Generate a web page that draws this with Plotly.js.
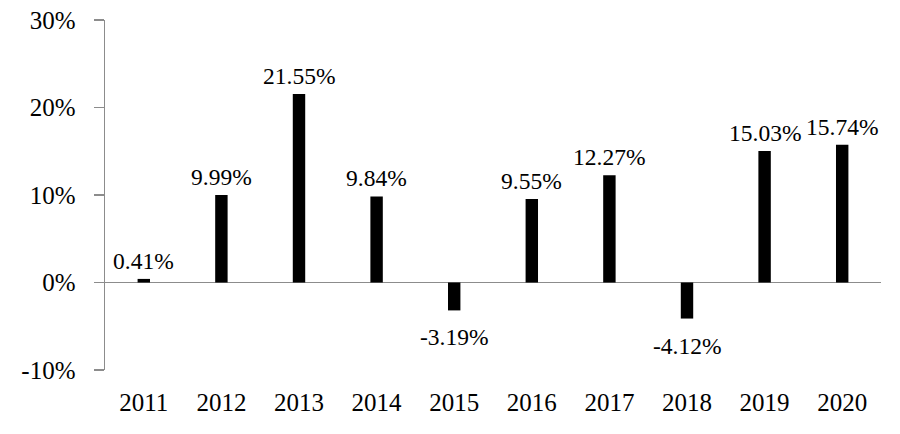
<!DOCTYPE html>
<html>
<head>
<meta charset="utf-8">
<script src="https://cdn.plot.ly/plotly-3.0.1.min.js"></script>
<style>html,body{margin:0;padding:0;background:#fff;}#chart{width:900px;height:434px;}</style>
</head>
<body>
<div id="chart"></div>
<script>
const years = ['2011','2012','2013','2014','2015','2016','2017','2018','2019','2020'];
const returns = [0.41, 9.99, 21.55, 9.84, -3.19, 9.55, 12.27, -4.12, 15.03, 15.74];
const yTickVals = [-10, 0, 10, 20, 30];
const yTickText = ['-10%', '0%', '10%', '20%', '30%'];

const FONT = '"Liberation Serif", "Times New Roman", serif';
const FS = 25;
const LABEL_FS = 23.5;

const annotations = years.map((yr, i) => ({
  x: i, y: returns[i], xref: 'x', yref: 'y',
  text: returns[i].toFixed(2) + '%',
  showarrow: false,
  xanchor: 'center', yanchor: 'middle',
  yshift: returns[i] >= 0 ? 18 : -27,
  font: {family: FONT, size: LABEL_FS, color: '#000'}
}));

const trace = {
  type: 'bar', x: years, y: returns,
  width: 0.16,
  marker: {color: '#000', line: {width: 0}},
  hoverinfo: 'none'
};

const layout = {
  width: 900, height: 434,
  margin: {l: 105, r: 19, t: 20, b: 64},
  paper_bgcolor: '#fff', plot_bgcolor: '#fff',
  showlegend: false,
  font: {family: FONT, size: FS, color: '#000'},
  xaxis: {
    type: 'category', categoryorder: 'array', categoryarray: years,
    range: [-0.5, years.length - 0.5], autorange: false,
    showgrid: false, showline: false, zeroline: false,
    ticks: '', ticklabelstandoff: 15,
    tickfont: {family: FONT, size: FS, color: '#000'}
  },
  yaxis: {
    range: [-10, 30], autorange: false, tickvals: yTickVals, ticktext: yTickText,
    showgrid: false, showline: true, linecolor: '#8c8c8c', linewidth: 1.5,
    ticks: 'outside', ticklen: 10, tickcolor: '#8c8c8c', tickwidth: 1.5,
    zeroline: true, zerolinecolor: '#8c8c8c', zerolinewidth: 1.5,
    ticklabelstandoff: 13,
    tickfont: {family: FONT, size: FS, color: '#000'}
  },
  annotations: annotations
};

Plotly.newPlot('chart', [trace], layout, {displayModeBar: false, staticPlot: true});
</script>
</body>
</html>
